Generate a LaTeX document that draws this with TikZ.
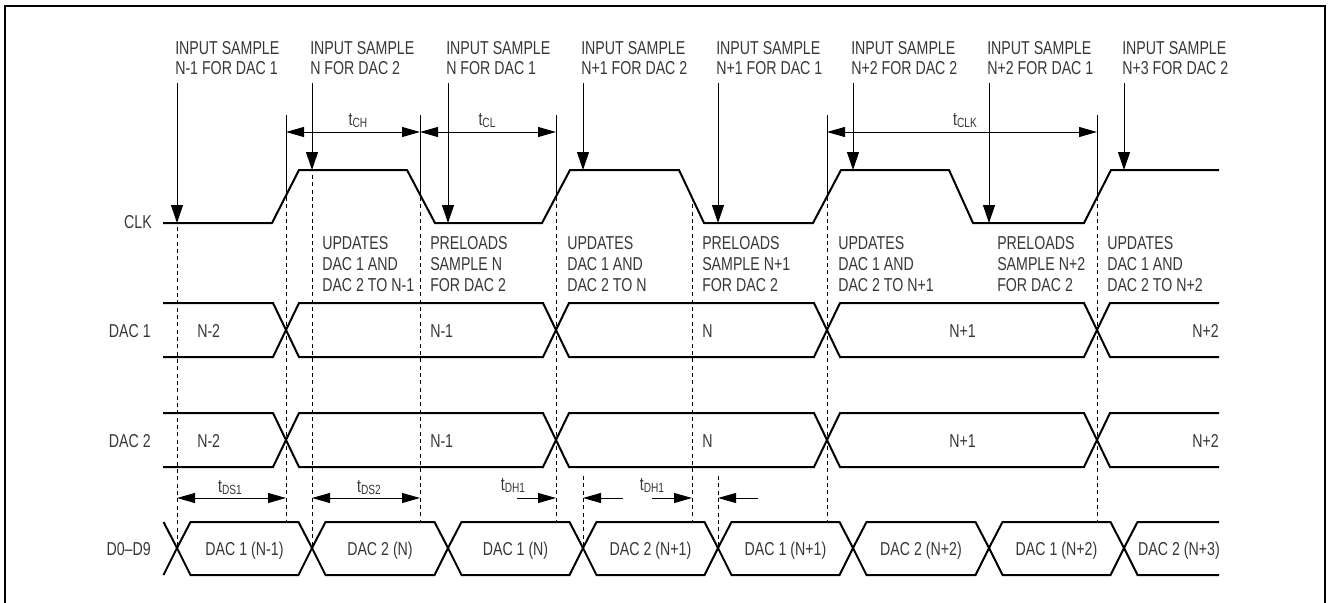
\documentclass[tikz,border=0pt]{standalone}
\usepackage{fontspec}
\setmainfont{Liberation Sans}[FakeStretch=0.76]
\usetikzlibrary{arrows.meta}

\definecolor{inkgray}{RGB}{55,55,55}
\newcommand{\lblfont}{\fontsize{14}{15.5}\selectfont}
\newcommand{\tsub}[1]{t\raisebox{-2pt}{\fontsize{10}{10}\selectfont #1}}

\tikzset{
	wave/.style={line width=1.5pt},
	guide/.style={line width=0.75pt, dash pattern=on 3pt off 2.5pt},
	dimline/.style={line width=0.75pt},
	dimarr/.style={dimline, -{Triangle[length=13.5pt,width=7.5pt]}},
	dimboth/.style={dimline, {Triangle[length=13.5pt,width=7.5pt]}-{Triangle[length=13.5pt,width=7.5pt]}},
	inarr/.style={line width=0.75pt, -{Triangle[length=13.5pt,width=9pt]}},
	txt/.style={inner sep=0pt, text=inkgray, font=\lblfont, align=left},
}

\begin{document}
\begin{tikzpicture}[x=0.75pt,y=-0.75pt]
	\useasboundingbox (0,0) rectangle (1328,603);
	\draw[line width=2pt] (5,603) -- (5,6) -- (1325,6) -- (1325,603);

	% input samples
	\node[txt, anchor=north west] (in1) at (175,41) {INPUT SAMPLE\\N-1 FOR DAC 1};
	\node[txt, anchor=north west] (in2) at (310,41) {INPUT SAMPLE\\N FOR DAC 2};
	\node[txt, anchor=north west] (in3) at (446,41) {INPUT SAMPLE\\N FOR DAC 1};
	\node[txt, anchor=north west] (in4) at (581,41) {INPUT SAMPLE\\N+1 FOR DAC 2};
	\node[txt, anchor=north west] (in5) at (716,41) {INPUT SAMPLE\\N+1 FOR DAC 1};
	\node[txt, anchor=north west] (in6) at (851,41) {INPUT SAMPLE\\N+2 FOR DAC 2};
	\node[txt, anchor=north west] (in7) at (987,41) {INPUT SAMPLE\\N+2 FOR DAC 1};
	\node[txt, anchor=north west] (in8) at (1122,41) {INPUT SAMPLE\\N+3 FOR DAC 2};

	\coordinate (s1) at (177,223);
	\coordinate (s2) at (312,170);
	\coordinate (s3) at (448,223);
	\coordinate (s4) at (583,170);
	\coordinate (s5) at (718,223);
	\coordinate (s6) at (853,170);
	\coordinate (s7) at (989,223);
	\coordinate (s8) at (1124,170);

	\draw[inarr] (s1 |- in1.south) ++(0,8) -- (s1);
	\draw[inarr] (s2 |- in2.south) ++(0,8) -- (s2);
	\draw[inarr] (s3 |- in3.south) ++(0,8) -- (s3);
	\draw[inarr] (s4 |- in4.south) ++(0,8) -- (s4);
	\draw[inarr] (s5 |- in5.south) ++(0,8) -- (s5);
	\draw[inarr] (s6 |- in6.south) ++(0,8) -- (s6);
	\draw[inarr] (s7 |- in7.south) ++(0,8) -- (s7);
	\draw[inarr] (s8 |- in8.south) ++(0,8) -- (s8);

	% row names
	\node[txt, anchor=base east] (clk) at (152,228) {CLK};
	\node[txt, anchor=base east] (dac1) at (151,337) {DAC 1};
	\node[txt, anchor=base east] (dac2) at (151,447) {DAC 2};
	\node[txt, anchor=base east] (data) at (151,555) {D0--D9};

	% clock
	\draw[wave] (163,223) -- (272,223) -- (299,170) -- (407,170) -- (435,223)
		-- (542,223) -- (570,170) -- (679,170) -- (704,223) -- (813,223)
		-- (841,170) -- (949,170) -- (973,223) -- (1084,223) -- (1111,170) -- (1219,170);

	% DAC 1 and DAC 2
	\draw[wave] (163,303) -- (273,303) -- (299,357) -- (543,357) -- (569,303) -- (814,303)
		-- (840,357) -- (1084,357) -- (1110,303) -- (1219,303);
	\draw[wave] (163,357) -- (273,357) -- (299,303) -- (543,303) -- (569,357) -- (814,357)
		-- (840,303) -- (1084,303) -- (1110,357) -- (1219,357);
	\draw[wave] (163,413) -- (273,413) -- (299,467) -- (543,467) -- (569,413) -- (814,413)
		-- (840,467) -- (1084,467) -- (1110,413) -- (1219,413);
	\draw[wave] (163,467) -- (273,467) -- (299,413) -- (543,413) -- (569,467) -- (814,467)
		-- (840,413) -- (1084,413) -- (1110,467) -- (1219,467);

	\node[txt, anchor=base west] (a1) at (197,337) {N-2};
	\node[txt, anchor=base west] (a2) at (430,337) {N-1};
	\node[txt, anchor=base west] (a3) at (702,337) {N};
	\node[txt, anchor=base west] (a4) at (949,337) {N+1};
	\node[txt, anchor=base east] (a5) at (1219,337) {N+2};
	\node[txt, anchor=base west] (b1) at (197,447) {N-2};
	\node[txt, anchor=base west] (b2) at (430,447) {N-1};
	\node[txt, anchor=base west] (b3) at (702,447) {N};
	\node[txt, anchor=base west] (b4) at (949,447) {N+1};
	\node[txt, anchor=base east] (b5) at (1219,447) {N+2};

	% what happens at each edge
	\node[txt, anchor=north west] (u1) at (322,236.6) {UPDATES\\DAC 1 AND\\DAC 2 TO N-1};
	\node[txt, anchor=north west] (p1) at (430,236.6) {PRELOADS\\SAMPLE N\\FOR DAC 2};
	\node[txt, anchor=north west] (u2) at (567,236.6) {UPDATES\\DAC 1 AND\\DAC 2 TO N};
	\node[txt, anchor=north west] (p2) at (702,236.6) {PRELOADS\\SAMPLE N+1\\FOR DAC 2};
	\node[txt, anchor=north west] (u3) at (838,236.6) {UPDATES\\DAC 1 AND\\DAC 2 TO N+1};
	\node[txt, anchor=north west] (p3) at (997,236.6) {PRELOADS\\SAMPLE N+2\\FOR DAC 2};
	\node[txt, anchor=north west] (u4) at (1107,236.6) {UPDATES\\DAC 1 AND\\DAC 2 TO N+2};

	% data bus
	\draw[wave] (163.5,522) -- (177,548) -- (163.5,575);
	\foreach \a/\b/\t in {177/312/DAC 1 (N-1), 312/448/DAC 2 (N), 448/583/DAC 1 (N),
		583/718/DAC 2 (N+1), 718/853/DAC 1 (N+1), 853/989/DAC 2 (N+2), 989/1124/DAC 1 (N+2)} {
		\draw[wave] (\a,548) -- (\a+13.5,522) -- (\b-13.5,522) -- (\b,548)
			-- (\b-13.5,575) -- (\a+13.5,575) -- cycle;
		\node[txt, anchor=base] (d\a) at ({(\a+\b)/2},555) {\t};
	}
	\draw[wave] (1219,522) -- (1137.5,522) -- (1124,548) -- (1137.5,575) -- (1219,575);
	\node[txt, anchor=base east] (d1124) at (1220,555) {DAC 2 (N+3)};

	% guide lines
	\draw[guide] (177,227) -- (177,548);
	\draw[dimline] (286,115) -- (286,197);
	\draw[guide] (286,197) -- (286,522);
	\draw[guide] (312,175) -- (312,548);
	\draw[dimline] (420,115) -- (420,197);
	\draw[guide] (420,197) -- (420,522);
	\draw[dimline] (556,115) -- (556,197);
	\draw[guide] (556,197) -- (556,522);
	\draw[guide] (583,476) -- (583,548);
	\draw[guide] (692,197) -- (692,522);
	\draw[guide] (718,476) -- (718,548);
	\draw[dimline] (827,115) -- (827,197);
	\draw[guide] (827,197) -- (827,522);
	\draw[dimline] (1097,115) -- (1097,197);
	\draw[guide] (1097,197) -- (1097,522);

	% timing
	\draw[dimboth] (286,132) -- (420,132);
	\draw[dimboth] (420,132) -- (556,132);
	\draw[dimboth] (827,132) -- (1097,132);
	\node[txt, anchor=base] (tch) at (358,125) {\tsub{CH}};
	\node[txt, anchor=base] (tcl) at (487,125) {\tsub{CL}};
	\node[txt, anchor=base] (tclk) at (965,125) {\tsub{CLK}};

	\draw[dimboth] (177,498) -- (286,498);
	\draw[dimboth] (312,498) -- (420,498);
	\draw[dimarr] (517,498) -- (556,498);
	\draw[dimarr] (623,498) -- (583,498);
	\draw[dimarr] (652,498) -- (692,498);
	\draw[dimarr] (758,498) -- (718,498);
	\node[txt, anchor=base] (tds1) at (230,492) {\tsub{DS1}};
	\node[txt, anchor=base] (tds2) at (369,492) {\tsub{DS2}};
	\node[txt, anchor=base] (tdh1) at (513,490) {\tsub{DH1}};
	\node[txt, anchor=base] (tdh2) at (652,490) {\tsub{DH1}};
\end{tikzpicture}
\end{document}
